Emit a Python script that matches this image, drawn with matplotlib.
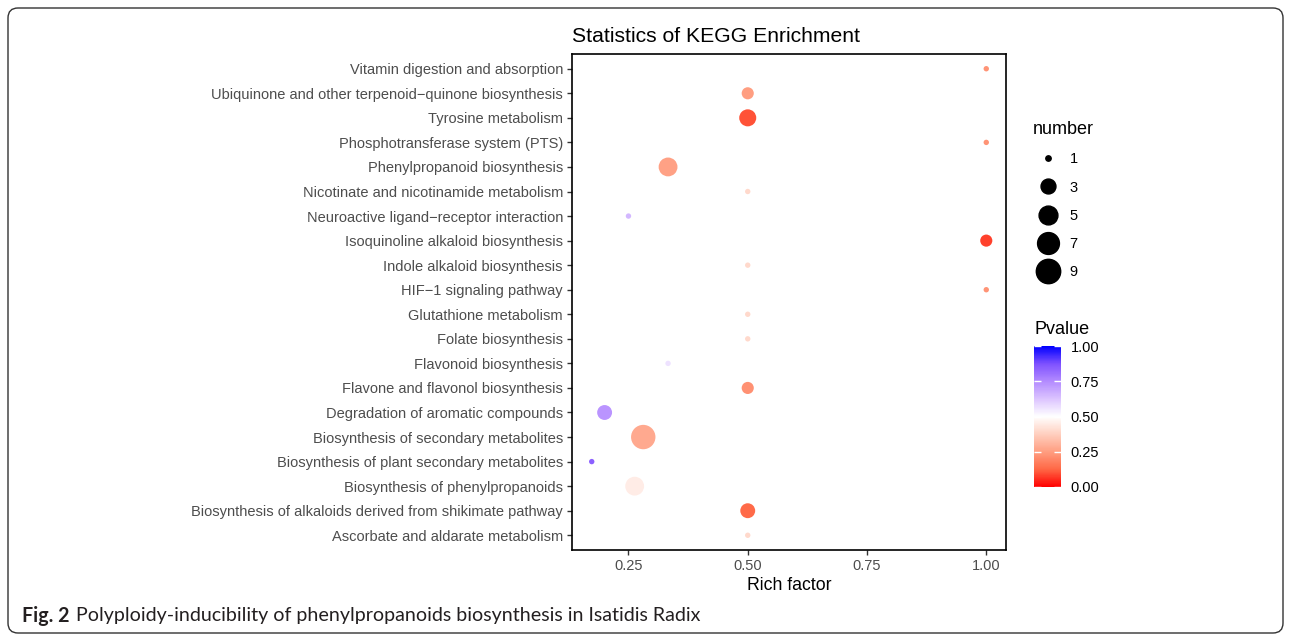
import numpy as np
import matplotlib
matplotlib.use('Agg')
import matplotlib.pyplot as plt
from matplotlib.colors import LinearSegmentedColormap, Normalize
from matplotlib.cm import ScalarMappable
from matplotlib.lines import Line2D
from matplotlib.patches import FancyBboxPatch
from matplotlib.transforms import IdentityTransform

plt.rcParams['font.family'] = ['Liberation Sans', 'DejaVu Sans']

# KEGG pathways, top to bottom as in the figure
pathways = [
    "Vitamin digestion and absorption",
    "Ubiquinone and other terpenoid\u2212quinone biosynthesis",
    "Tyrosine metabolism",
    "Phosphotransferase system (PTS)",
    "Phenylpropanoid biosynthesis",
    "Nicotinate and nicotinamide metabolism",
    "Neuroactive ligand\u2212receptor interaction",
    "Isoquinoline alkaloid biosynthesis",
    "Indole alkaloid biosynthesis",
    "HIF\u22121 signaling pathway",
    "Glutathione metabolism",
    "Folate biosynthesis",
    "Flavonoid biosynthesis",
    "Flavone and flavonol biosynthesis",
    "Degradation of aromatic compounds",
    "Biosynthesis of secondary metabolites",
    "Biosynthesis of plant secondary metabolites",
    "Biosynthesis of phenylpropanoids",
    "Biosynthesis of alkaloids derived from shikimate pathway",
    "Ascorbate and aldarate metabolism",
]
rich_factor = [1.0, 0.5, 0.5, 1.0, 0.333, 0.5, 0.25, 1.0, 0.5, 1.0,
               0.5, 0.5, 0.333, 0.5, 0.2, 0.281, 0.173, 0.263, 0.5, 0.5]
number = [1, 2, 4, 1, 5, 1, 1, 2, 1, 1, 1, 1, 1, 2, 3, 9, 1, 5, 3, 1]
pvalue = [0.23, 0.25, 0.10, 0.23, 0.26, 0.40, 0.65, 0.08, 0.40, 0.23,
          0.40, 0.40, 0.56, 0.22, 0.73, 0.28, 0.84, 0.45, 0.13, 0.40]
size_breaks = [1, 3, 5, 7, 9]
p_ticks = [0.0, 0.25, 0.5, 0.75, 1.0]

W, H = 1290, 634


def marker_diam_pt(n):
    # ggplot-like area scale: size 1..6 over number 1..9
    size = 1 + 5 * np.sqrt((np.asarray(n, dtype=float) - 1) / 8)
    return (size * 3.8 + 1.6) * 0.72


# red - white - blue gradient (Lab-like steps)
cmap = LinearSegmentedColormap.from_list('pv', [
    (0.0, '#FF0000'), (0.125, '#FF6846'), (0.25, '#FF9E81'), (0.375, '#FFCFBF'),
    (0.5, '#FFFFFF'), (0.625, '#DCC4FF'), (0.75, '#B38BFF'), (0.875, '#7E51FF'),
    (1.0, '#0000FF')])
norm = Normalize(0, 1)

fig = plt.figure(figsize=(W / 100, H / 100), dpi=100)

# journal figure frame
frame = FancyBboxPatch((8, 1), 1275, 625, boxstyle='round,pad=0,rounding_size=10',
                       transform=IdentityTransform(), fill=False, ec='#333333', lw=1.0)
fig.patches.append(frame)

ax = fig.add_axes([572 / W, 1 - 550 / H, 434 / W, 496 / H])
ypos = np.arange(len(pathways))[::-1]
ax.scatter(rich_factor, ypos, s=marker_diam_pt(number) ** 2, c=pvalue,
           cmap=cmap, norm=norm, edgecolors='none', zorder=3)

lo, hi = min(rich_factor), max(rich_factor)
pad = 0.05 * (hi - lo)
ax.set_xlim(lo - pad, hi + pad)
ax.set_ylim(-0.6, len(pathways) - 0.4)
ax.set_yticks(ypos)
ax.set_yticklabels(pathways)
ax.set_xticks([0.25, 0.5, 0.75, 1.0])
ax.set_xticklabels(['0.25', '0.50', '0.75', '1.00'])
ax.tick_params(length=3.5, width=1, color='#333333', labelcolor='#4D4D4D',
               labelsize=10.5, pad=3)
for sp in ax.spines.values():
    sp.set_linewidth(1.2)
    sp.set_color('black')
ax.set_xlabel('Rich factor', fontsize=12.7, labelpad=3)
ax.set_title('Statistics of KEGG Enrichment', fontsize=15.2, pad=9, loc='left')

# size legend
handles = [Line2D([], [], marker='o', ls='', color='black',
                  markersize=marker_diam_pt(n)) for n in size_breaks]
leg = ax.legend(handles, [str(n) for n in size_breaks], title='number',
                loc='upper left', bbox_to_anchor=(1033 / W, 1 - 121 / H),
                bbox_transform=fig.transFigure, frameon=False, fontsize=10.5,
                title_fontsize=13, handletextpad=0.5, labelspacing=0.98,
                borderpad=0, borderaxespad=0, alignment='left')

# colour bar
fig.text(1034 / W, 1 - 329 / H, 'Pvalue', fontsize=13, va='center', ha='left')
cax = fig.add_axes([1034 / W, 1 - 487 / H, 27 / W, 141 / H])
cb = fig.colorbar(ScalarMappable(norm=norm, cmap=cmap), cax=cax, ticks=p_ticks)
cb.outline.set_visible(False)
cb.ax.set_yticklabels(['0.00', '0.25', '0.50', '0.75', '1.00'])
cb.ax.tick_params(left=True, right=True, direction='in', color='white',
                  length=5, width=1, labelsize=10.5, pad=7)

# caption
cap_font = ['Lato', 'DejaVu Sans']
t1 = fig.text(22 / W, 1 - 616 / H, 'Fig. 2', fontsize=14.1, fontweight='bold',
              family=cap_font, va='center', ha='left', color='#231F20')
fig.canvas.draw()
bb = t1.get_window_extent()
fig.text((bb.x1 + 6) / W, 1 - 616 / H,
         'Polyploidy-inducibility of phenylpropanoids biosynthesis in Isatidis Radix',
         fontsize=14.1, family=cap_font, va='center', ha='left', color='#231F20')

fig.savefig('out.png', dpi=100)
